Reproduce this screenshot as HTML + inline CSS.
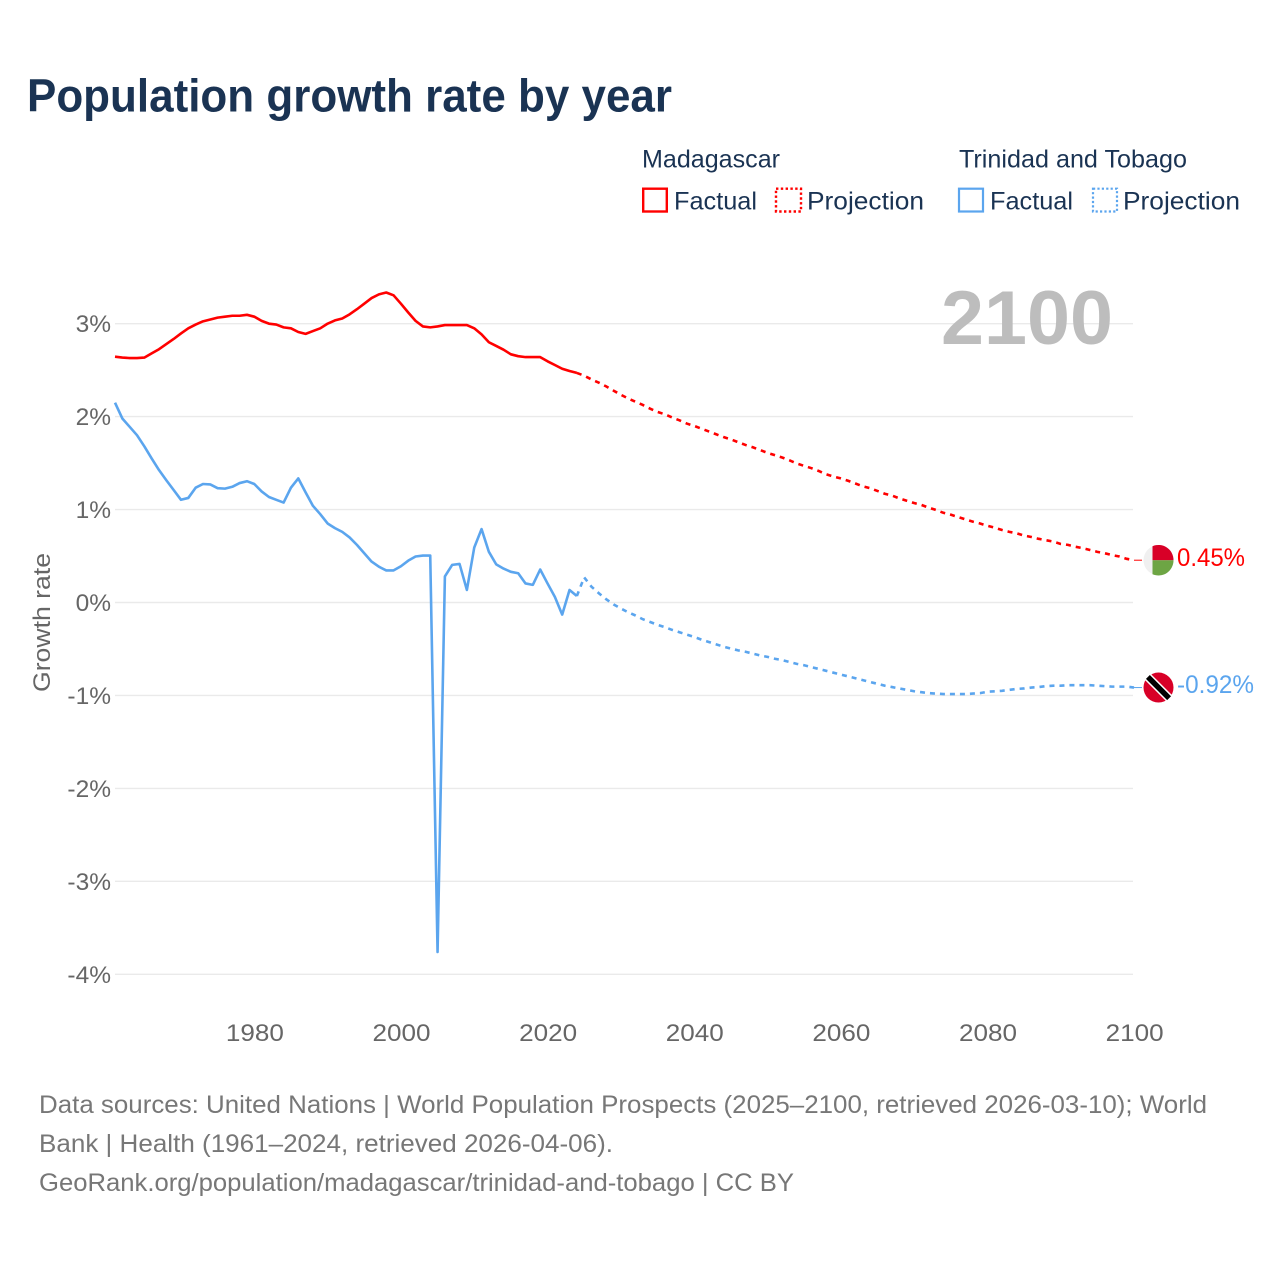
<!DOCTYPE html>
<html lang="en">
<head>
<meta charset="utf-8">
<title>Population growth rate by year</title>
<style>
html,body{margin:0;padding:0;background:#fff;}
svg{display:block;font-family:"Liberation Sans",sans-serif;}
.navy{fill:#1a3353;}
.axis{fill:#666;font-size:24.5px;}
.foot{fill:#777;font-size:25px;}
.leg{fill:#1a3353;font-size:25px;}
</style>
</head>
<body>
<svg id="chart" xmlns="http://www.w3.org/2000/svg" width="1280" height="1280" viewBox="0 0 1280 1280">
  <rect x="0" y="0" width="1280" height="1280" fill="#fff"/>
  <text class="navy" x="27" y="111.5" font-size="46" font-weight="700" textLength="645" lengthAdjust="spacingAndGlyphs">Population growth rate by year</text>

  <g>
    <text class="leg" x="642" y="167.5" textLength="138" lengthAdjust="spacingAndGlyphs">Madagascar</text>
    <rect x="643.2" y="188.7" width="23.6" height="22.8" fill="none" stroke="#ff0000" stroke-width="2.4"/>
    <text class="leg" x="674" y="209.5" textLength="83" lengthAdjust="spacingAndGlyphs">Factual</text>
    <rect x="776" y="188.7" width="25" height="22.8" fill="none" stroke="#ff0000" stroke-width="2.4" stroke-dasharray="2.4,2.4"/>
    <text class="leg" x="807" y="209.5" textLength="117" lengthAdjust="spacingAndGlyphs">Projection</text>
    <text class="leg" x="959" y="167.5" textLength="228" lengthAdjust="spacingAndGlyphs">Trinidad and Tobago</text>
    <rect x="959" y="188.7" width="24" height="22.8" fill="none" stroke="#5ba5ee" stroke-width="2.2"/>
    <text class="leg" x="990" y="209.5" textLength="83" lengthAdjust="spacingAndGlyphs">Factual</text>
    <rect x="1093" y="188.7" width="24" height="22.8" fill="none" stroke="#5ba5ee" stroke-width="2.2" stroke-dasharray="2.2,2.2"/>
    <text class="leg" x="1123" y="209.5" textLength="117" lengthAdjust="spacingAndGlyphs">Projection</text>
  </g>

  <g id="grid"></g>
  <g id="yaxis"></g>
  <g id="xaxis"></g>
  <text class="axis" transform="translate(50,622.5) rotate(-90)" text-anchor="middle" textLength="139" lengthAdjust="spacingAndGlyphs">Growth rate</text>
  <text x="1113" y="344" text-anchor="end" font-size="76" font-weight="700" fill="#bdbdbd" textLength="172" lengthAdjust="spacingAndGlyphs">2100</text>
  <g id="series"></g>
  <g id="ends"></g>

  <text class="foot" x="39" y="1113" textLength="1168" lengthAdjust="spacingAndGlyphs">Data sources: United Nations | World Population Prospects (2025–2100, retrieved 2026-03-10); World</text>
  <text class="foot" x="39" y="1152" textLength="574" lengthAdjust="spacingAndGlyphs">Bank | Health (1961–2024, retrieved 2026-04-06).</text>
  <text class="foot" x="39" y="1191" textLength="755" lengthAdjust="spacingAndGlyphs">GeoRank.org/population/madagascar/trinidad-and-tobago | CC BY</text>
</svg>
<script>
// Chart data: growth rate in percent
const factualStartYear = 1961;
const projectionStartYear = 2025;
const xTickYears = [1980, 2000, 2020, 2040, 2060, 2080, 2100];
const yTickValues = [3, 2, 1, 0, -1, -2, -3, -4];
const endValueLabels = ['0.45%', '-0.92%'];

const madagascarFactual = [
  2.645,2.635,2.63,2.63,2.635,2.68,2.725,2.78,2.835,2.895,
  2.95,2.99,3.025,3.045,3.065,3.075,3.085,3.085,3.095,3.075,
  3.03,3.0,2.99,2.96,2.95,2.91,2.89,2.92,2.95,3.0,
  3.035,3.055,3.10,3.155,3.215,3.275,3.315,3.335,3.305,3.215,
  3.12,3.03,2.97,2.96,2.97,2.985,2.985,2.985,2.985,2.95,
  2.885,2.80,2.76,2.72,2.67,2.65,2.64,2.64,2.64,2.595,
  2.555,2.515,2.49,2.47
];
const madagascarProjection = [
  2.44,2.40,2.365,2.325,2.28,2.235,2.195,2.16,2.125,2.085,
  2.05,2.025,1.99,1.96,1.925,1.90,1.87,1.84,1.81,1.78,
  1.755,1.725,1.695,1.67,1.64,1.61,1.585,1.56,1.53,1.495,
  1.47,1.445,1.415,1.38,1.355,1.335,1.31,1.28,1.25,1.23,
  1.20,1.17,1.15,1.12,1.095,1.07,1.05,1.02,0.995,0.965,
  0.945,0.92,0.895,0.87,0.85,0.825,0.805,0.78,0.76,0.745,
  0.72,0.705,0.685,0.67,0.655,0.63,0.62,0.60,0.585,0.565,
  0.545,0.53,0.51,0.495,0.47,0.455
];
const trinidadFactual = [
  2.15,1.98,1.89,1.80,1.68,1.55,1.425,1.315,1.21,1.105,
  1.125,1.235,1.275,1.27,1.23,1.225,1.245,1.285,1.305,1.275,
  1.195,1.135,1.105,1.075,1.235,1.335,1.185,1.04,0.95,0.85,
  0.80,0.76,0.70,0.62,0.53,0.44,0.385,0.345,0.345,0.39,
  0.45,0.495,0.505,0.505,-3.76,0.28,0.405,0.415,0.135,0.59,
  0.79,0.545,0.41,0.365,0.33,0.315,0.205,0.19,0.355,0.205,
  0.06,-0.13,0.135,0.07
];
const trinidadProjection = [
  0.27,0.17,0.10,0.035,-0.02,-0.065,-0.105,-0.14,-0.18,-0.21,
  -0.24,-0.265,-0.295,-0.32,-0.345,-0.37,-0.40,-0.425,-0.45,-0.475,
  -0.495,-0.515,-0.53,-0.55,-0.57,-0.585,-0.605,-0.62,-0.64,-0.66,
  -0.675,-0.695,-0.715,-0.735,-0.755,-0.775,-0.795,-0.815,-0.835,-0.855,
  -0.875,-0.895,-0.91,-0.925,-0.94,-0.955,-0.965,-0.975,-0.98,-0.985,
  -0.985,-0.985,-0.985,-0.98,-0.975,-0.96,-0.955,-0.95,-0.94,-0.93,
  -0.925,-0.915,-0.91,-0.90,-0.895,-0.895,-0.89,-0.89,-0.89,-0.89,
  -0.895,-0.90,-0.905,-0.905,-0.905,-0.915
];

const NS = 'http://www.w3.org/2000/svg';
const plotLeft = 115, plotRight = 1133;
const lastYear = projectionStartYear + madagascarProjection.length - 1;
function xScale(year) {
  return plotLeft + (year - factualStartYear) * (plotRight + 1 - plotLeft) / (lastYear - factualStartYear);
}
function yScale(value) {
  return 602.5 - value * 92.95;
}
function mk(tag, attrs, parent, text) {
  const el = document.createElementNS(NS, tag);
  for (const k in attrs) el.setAttribute(k, attrs[k]);
  if (text !== undefined) el.textContent = text;
  parent.appendChild(el);
  return el;
}
function pathFrom(startYear, values) {
  return values.map(function (v, i) {
    return (i ? 'L' : 'M') + xScale(startYear + i).toFixed(2) + ' ' + yScale(v).toFixed(2);
  }).join(' ');
}

const gridG = document.getElementById('grid');
const yG = document.getElementById('yaxis');
const xG = document.getElementById('xaxis');
yTickValues.forEach(function (v) {
  const line = mk('line', {x1: plotLeft, x2: plotRight, y1: yScale(v), y2: yScale(v), stroke: '#eaeaea', 'stroke-width': 1.4}, gridG);
  
  
  const label = mk('text', {class: 'axis', x: 111, y: yScale(v) + 8.5, 'text-anchor': 'end'}, yG, v + '%');
  
  
});
xTickYears.forEach(function (year) {
  const label = mk('text', {class: 'axis', x: xScale(year) + 0.6, y: 1041, 'text-anchor': 'middle', textLength: 58, lengthAdjust: 'spacingAndGlyphs'}, xG, year);
  
  
});

const seriesG = document.getElementById('series');
const endsG = document.getElementById('ends');
const red = '#ff0000', blue = '#5ba5ee';

function drawSeries(factual, projection, color, key) {
  const solid = mk('path', {d: pathFrom(factualStartYear, factual), fill: 'none', stroke: color, 'stroke-width': 2.6, 'stroke-linejoin': 'round'}, seriesG);
  
  
  const joined = [factual[factual.length - 1]].concat(projection);
  const dashed = mk('path', {d: pathFrom(projectionStartYear - 1, joined), fill: 'none', stroke: color, 'stroke-width': 2.6, 'stroke-dasharray': '5,5'}, seriesG);
  
  
  const yEnd = yScale(projection[projection.length - 1]);
  const conn = mk('line', {x1: xScale(lastYear), x2: 1142, y1: yEnd, y2: yEnd, stroke: color, 'stroke-width': 1}, seriesG);
  
  
  return yEnd;
}

const yMada = drawSeries(madagascarFactual, madagascarProjection, red, 'madagascar');
const yTrin = drawSeries(trinidadFactual, trinidadProjection, blue, 'trinidad');
const flagX = 1158.5, flagR = 15;

// Madagascar flag
const fm = mk('g', {transform: 'translate(' + flagX + ' ' + yMada + ')'}, endsG);


mk('circle', {r: flagR, fill: '#f0f0f0'}, fm);
mk('path', {d: 'M-6 -14 A15 15 0 0 1 15 0 L-6 0 Z', fill: '#d80027'}, fm);
mk('path', {d: 'M-6 14 A15 15 0 0 0 15 0 L-6 0 Z', fill: '#6da544'}, fm);

// Trinidad and Tobago flag
const ft = mk('g', {transform: 'translate(' + flagX + ' ' + yTrin + ')'}, endsG);


mk('circle', {r: flagR, fill: '#d80027'}, ft);
mk('line', {x1: -10.6, y1: -10.6, x2: 10.6, y2: 10.6, stroke: '#fff', 'stroke-width': 8.5}, ft);
mk('line', {x1: -10.6, y1: -10.6, x2: 10.6, y2: 10.6, stroke: '#000', 'stroke-width': 5.5}, ft);

const lm = mk('text', {x: 1177, y: yMada + 6, fill: red, 'font-size': 25, textLength: 68, lengthAdjust: 'spacingAndGlyphs'}, endsG, endValueLabels[0]);


const lt = mk('text', {x: 1177, y: yTrin + 5.5, fill: blue, 'font-size': 25, textLength: 77, lengthAdjust: 'spacingAndGlyphs'}, endsG, endValueLabels[1]);


</script>
</body>
</html>
